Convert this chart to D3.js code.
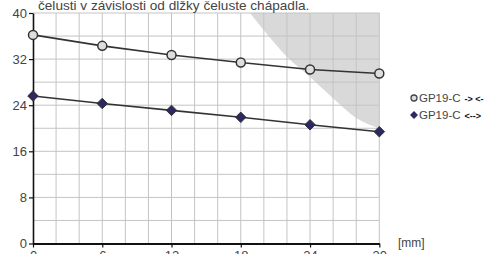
<!DOCTYPE html>
<html>
<head>
<meta charset="utf-8">
<script src="https://cdn.jsdelivr.net/npm/d3@7"></script>
<style>
  body { margin: 0; background: #fff; }
  svg { display: block; font-family: "Liberation Sans", Arial, sans-serif; }
</style>
</head>
<body>
<div id="chart"></div>
<script>
const titleText = "čelusti v závislosti od dĺžky čeluste chápadla.";
const jawLength = [0, 6, 12, 18, 24, 30];
const forceClosing = [36.2, 34.3, 32.7, 31.4, 30.2, 29.5];
const forceOpening = [25.6, 24.3, 23.1, 21.9, 20.6, 19.4];
const seriesNames = ["GP19-C", "GP19-C"];
const seriesArrows = ["-> <-", "<-->"];
const xTicks = [0, 6, 12, 18, 24, 30];
const yTicks = [0, 8, 16, 24, 32, 40];
// edge of the grey "not allowed" zone, upper right
const zoneX = [18.8, 20, 22, 24, 26, 28, 30];
const zoneY = [40, 37, 32.4, 28.9, 25.2, 21.8, 20];

const W = 503, H = 254;
const margin = { top: 13, left: 33 };
const plotW = 346.3, plotH = 230.5;

const svg = d3.select("#chart").append("svg").attr("width", W).attr("height", H);

const x = d3.scaleLinear().domain([0, 30]).range([margin.left, margin.left + plotW]);
const y = d3.scaleLinear().domain([0, 40]).range([margin.top + plotH, margin.top]);

// zone
const edge = d3.line().x((d) => x(d[0])).y((d) => y(d[1])).curve(d3.curveMonotoneX);
svg.append("path")
  .attr("d", edge(zoneX.map((v, i) => [v, zoneY[i]])) + `L${x(30)},${y(40)}Z`)
  .attr("fill", "#d9d9d9");

// grid
const grid = svg.append("g").attr("stroke", "#c4c4c4").attr("stroke-width", 1);
grid.selectAll(".gx").data(d3.range(2, 31, 2)).enter().append("line")
  .attr("x1", (d) => x(d)).attr("x2", (d) => x(d))
  .attr("y1", y(0)).attr("y2", y(40));
grid.selectAll(".gy").data(d3.range(4, 41, 4)).enter().append("line")
  .attr("x1", x(0)).attr("x2", x(30))
  .attr("y1", (d) => y(d)).attr("y2", (d) => y(d));

// axes
const yAxis = svg.append("g")
  .attr("transform", `translate(${x(0)},0)`)
  .call(d3.axisLeft(y).tickValues(yTicks).tickSize(4).tickPadding(2).tickSizeOuter(0));
yAxis.select(".domain").attr("stroke", "#111").attr("stroke-width", 1.6);
yAxis.selectAll(".tick line").attr("stroke", "#111").attr("stroke-width", 1.2);
yAxis.selectAll("text").attr("fill", "#444").style("font-size", "13px");

const xAxis = svg.append("g")
  .attr("transform", `translate(0,${y(0)})`)
  .call(d3.axisBottom(x).tickValues(xTicks).tickSize(4).tickPadding(3).tickSizeOuter(0));
xAxis.select(".domain").attr("stroke", "#111").attr("stroke-width", 2.2);
xAxis.selectAll(".tick line").attr("stroke", "#111").attr("stroke-width", 1.2);
xAxis.selectAll("text").attr("fill", "#444").style("font-size", "13px");

svg.append("text").attr("x", 398).attr("y", 247)
  .attr("fill", "#444").style("font-size", "12px").text("[mm]");

// title (its first line is off the top of the image)
svg.append("text").attr("x", 38).attr("y", 9.5)
  .attr("fill", "#444").style("font-size", "13.6px").text(titleText);

// series
const line = d3.line().x((d) => x(d[0])).y((d) => y(d[1]));
const s1 = jawLength.map((v, i) => [v, forceClosing[i]]);
const s2 = jawLength.map((v, i) => [v, forceOpening[i]]);

svg.append("path").attr("d", line(s1)).attr("fill", "none").attr("stroke", "#333").attr("stroke-width", 1.6);
svg.append("path").attr("d", line(s2)).attr("fill", "none").attr("stroke", "#333").attr("stroke-width", 1.6);

svg.selectAll(".c").data(s1).enter().append("circle")
  .attr("cx", (d) => x(d[0])).attr("cy", (d) => y(d[1])).attr("r", 4.5)
  .attr("fill", "#dedede").attr("stroke", "#333").attr("stroke-width", 1.5);

const diamond = d3.symbol().type(d3.symbolDiamond2).size(70);
svg.selectAll(".d").data(s2).enter().append("path")
  .attr("transform", (d) => `translate(${x(d[0])},${y(d[1])})`)
  .attr("d", diamond)
  .attr("fill", "#2b2862").attr("stroke", "#333").attr("stroke-width", 1);

// legend
const legend = svg.append("g").attr("transform", "translate(414,0)");
const rows = [98, 115];
legend.append("circle").attr("cx", 0).attr("cy", rows[0]).attr("r", 3)
  .attr("fill", "#dedede").attr("stroke", "#444").attr("stroke-width", 1.3);
legend.append("path").attr("transform", `translate(0,${rows[1]})`)
  .attr("d", d3.symbol().type(d3.symbolDiamond2).size(40))
  .attr("fill", "#2b2862");
rows.forEach((ry, i) => {
  const t = legend.append("text").attr("x", 5).attr("y", ry + 4)
    .attr("fill", "#444").style("font-size", "11.5px");
  t.append("tspan").text(seriesNames[i]);
  t.append("tspan").attr("dx", 4).style("font-size", "9px").style("font-weight", "bold")
    .attr("fill", "#111").text(seriesArrows[i]);
});
</script>
</body>
</html>
